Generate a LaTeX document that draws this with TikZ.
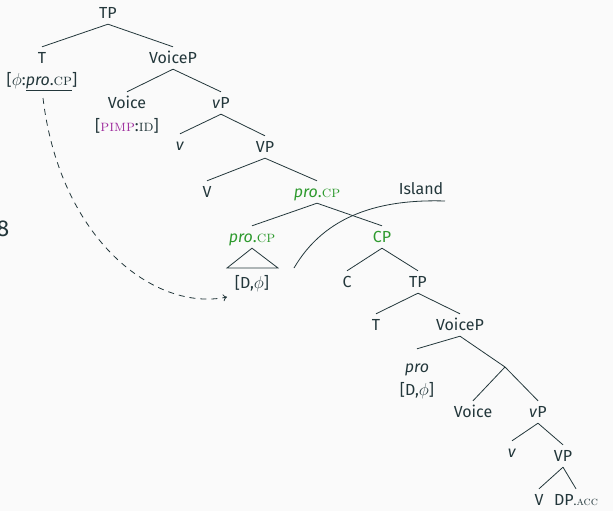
\documentclass[tikz,border=0pt]{standalone}
\usepackage{fontspec}
\setsansfont{Fira Sans}
\usetikzlibrary{arrows.meta}
\definecolor{fg}{HTML}{23373B}
\definecolor{grn}{HTML}{2E9A2E}
\definecolor{mag}{HTML}{A0309F}
\definecolor{bg}{HTML}{FAFAFA}
\newcommand{\mysc}[1]{\textrm{\textsc{#1}}}
\newcommand{\procp}{\textit{pro}.\mysc{cp}}
\begin{document}
\begin{tikzpicture}[x=1pt,y=-1pt,
  every node/.style={font=\sffamily\fontsize{16}{19}\selectfont, text=fg},
  lab/.style={inner sep=0pt, text height=11pt, text depth=0pt, minimum height=22pt},
  br/.style={draw=fg, line width=0.8pt},
  mv/.style={draw=fg, line width=0.8pt, dash pattern=on 6pt off 5pt, -{To[length=4pt,width=7pt]}}]
\fill[bg] (0,0) rectangle (613,511);
\useasboundingbox (0,0) rectangle (613,511);

\node[inner sep=0pt, anchor=east, font=\sffamily\fontsize{23}{26}\selectfont] (ex) at (9.5,229) {8};

% upper tree
\node[lab] (TPa) at (108,13) {TP};
\node[lab] (Ta) at (42,58) {T};
\node[lab] (Tf) at (42,80) {[$\phi$:\underline{\procp}]};
\node[lab] (VoicePa) at (173,58) {VoiceP};
\node[lab] (Voicea) at (127,103) {Voice};
\node[lab] (Voicef) at (127,126) {[{\color{mag}\mysc{pimp}}:\mysc{id}]};
\node[lab] (vPa) at (221,103) {\textit{v}P};
\node[lab] (va) at (180,145) {\textit{v}};
\node[lab] (VPa) at (265,147) {VP};
\node[lab] (Va) at (207,192) {V};
\node[lab, text=grn] (pcA) at (317,192) {\procp};
\node[lab, text=grn] (pcB) at (252,237) {\procp};
\node[lab] (Dphia) at (252,283) {[D,$\phi$]};
\node[lab, text=grn] (CP) at (382,237) {CP};
\node[lab] (Ca) at (347,282) {C};
\node[lab] (TPb) at (418,282) {TP};
\node[lab] (Tb) at (376,325) {T};
\node[lab] (VoicePb) at (460,325) {VoiceP};
\node[lab] (prob) at (417,367) {\textit{pro}};
\node[lab] (Dphib) at (417,390) {[D,$\phi$]};
\coordinate (Vbar) at (505,367);
\node[lab] (Voiceb) at (473,412) {Voice};
\node[lab] (vPb) at (538,412) {\textit{v}P};
\node[lab] (vb) at (512,452) {\textit{v}};
\node[lab] (VPb) at (563,456) {VP};
\node[lab] (Vb) at (539,500) {V};
\node[lab] (DPb) at (576,500) {DP{\fontsize{12}{14}\selectfont.\mysc{acc}}};
\node[lab] (Isl) at (421,189) {Island};

% branches
\draw[br] (TPa.south) -- (Ta.north);
\draw[br] (TPa.south) -- (VoicePa.north);
\draw[br] (VoicePa.south) -- (Voicea.north);
\draw[br] (VoicePa.south) -- (vPa.north);
\draw[br] (vPa.south) -- (va.north);
\draw[br] (vPa.south) -- (VPa.north);
\draw[br] (VPa.south) -- (Va.north);
\draw[br] (VPa.south) -- (pcA.north);
\draw[br] (pcA.south) -- (pcB.north);
\draw[br] (pcA.south) -- (CP.north);
\draw[br] (CP.south) -- (Ca.north);
\draw[br] (CP.south) -- (TPb.north);
\draw[br] (TPb.south) -- (Tb.north);
\draw[br] (TPb.south) -- (VoicePb.north);
\draw[br] (VoicePb.south) -- ([yshift=7pt]prob.north);
\draw[br] (VoicePb.south) -- (Vbar);
\draw[br] (Vbar) -- (Voiceb.north);
\draw[br] (Vbar) -- (vPb.north);
\draw[br] (vPb.south) -- (vb.north);
\draw[br] (vPb.south) -- (VPb.north);
\draw[br] (VPb.south) -- (Vb.north);
\draw[br] (VPb.south) -- (DPb.north);

% triangle
\coordinate (triL) at (227,268);
\coordinate (triR) at (278,268);
\draw[br, line join=miter] (pcB.south) -- (triL) -- (triR) -- cycle;

% island boundary
\coordinate (islA) at (294,268);
\coordinate (islB) at (445,201);
\draw[br] (islA) .. controls (325,215) and (380,199) .. (islB);

% movement arrow
\coordinate (arrS) at (43,98);
\coordinate (arrE) at (227,297);
\draw[mv] (arrS) .. controls (60,240) and (155,312) .. (arrE);
\end{tikzpicture}
\end{document}
